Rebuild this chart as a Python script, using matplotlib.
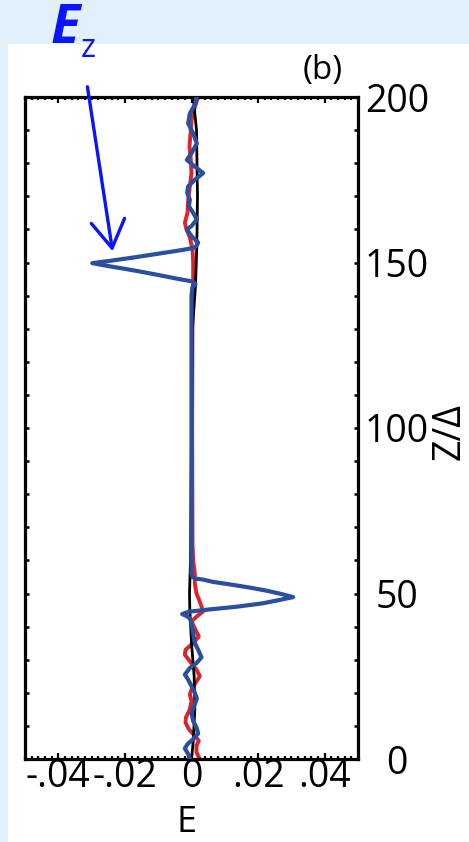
import matplotlib
matplotlib.use('Agg')
import matplotlib.pyplot as plt
from matplotlib.patches import Rectangle, FancyArrowPatch
from matplotlib.ticker import FixedLocator, FixedFormatter, MultipleLocator

plt.rcParams['font.family'] = ['Open Sans', 'DejaVu Sans']

# field profiles: (z/Delta, E)
z_ez = [200, 198, 195, 192, 189, 186, 183, 181, 179, 177, 175, 173, 171, 169, 167,
        165, 163, 161, 160, 158, 156, 155, 154.5,
        154, 153.5, 152.5, 151.5, 150.5, 149.8, 149, 148, 147, 146, 145, 144.3, 143.5, 142.5,
        140, 100, 60, 56, 55,
        54.5, 54.2, 53.5, 52.6, 51.7, 50.8, 49.8, 48.9, 48, 47, 46, 45.2, 44.5, 43.8, 43, 42.5,
        41, 38, 35, 33, 30.7, 29, 27.5, 25.5, 24, 22, 20, 18.3, 16, 13.8, 11.5, 9.5,
        7.7, 6, 4.5, 3.2, 1.5, 0]
ez = [0.0015, 0.0012, -0.0005, -0.001, 0.0005, 0.0016, 0.0, -0.0014, 0.001, 0.0035, 0.001,
      -0.001, -0.0013, -0.0005, -0.0008, 0.0005, 0.0016, 0.0, -0.0014, 0.0, 0.002, 0.0015,
      0.0008,
      -0.0015, -0.0045, -0.011, -0.0175, -0.0245, -0.0298, -0.0255, -0.0195, -0.014, -0.0088,
      -0.0038, 0.0002, 0.0012, 0.0003,
      0.0, 0.0, 0.0, 0.0, 0.0003,
      0.0012, 0.0035, 0.0065, 0.0125, 0.018, 0.0228, 0.0272, 0.0305, 0.0262, 0.0212, 0.0135,
      0.0055, -0.0008, -0.0028, -0.0012, -0.0005,
      0.0, 0.0005, 0.001, 0.002, 0.003, 0.0015, -0.0005, -0.002, -0.001, 0.0, 0.001,
      0.0016, 0.0008, 0.0, 0.0005, 0.0015, 0.002, 0.0005, -0.0012, -0.002, -0.001, -0.0005]

z_red = [200, 197, 193, 189, 185, 181, 177, 173, 169, 165, 162, 160, 157.5, 154, 150, 145,
         140, 100, 65, 60, 56, 53, 50, 47.5, 44.6, 43, 41.5, 39.5, 37, 35, 33, 31.5, 29.5,
         27, 25, 23, 21, 19.5, 17.5, 15, 12.5, 11, 9, 7, 5.5, 4, 2, 0]
e_red = [0.002, 0.001, 0.0, -0.0003, -0.0006, -0.0002, 0.0, -0.0005, -0.001, -0.0012,
         -0.002, -0.0015, -0.0005, 0.0003, 0.0005, 0.0005, 0.0003, 0.0002, 0.0003, 0.0005,
         0.001, 0.001, 0.0015, 0.0025, 0.0035, 0.0015, 0.0, 0.001, 0.0022, 0.0005, -0.0018,
         -0.002, -0.0005, 0.0015, 0.0025, 0.0012, 0.0, -0.0005, 0.0, -0.0005, -0.0017,
         -0.0018, -0.0008, 0.001, 0.0022, 0.0015, 0.0015, 0.0025]

z_blk = [200, 190, 170, 155, 143, 130, 100, 60, 50, 45, 35, 25, 15, 5, 0]
e_blk = [0.0005, 0.0015, 0.0018, 0.0016, 0.0012, 0.0003, 0.0, -0.0003, -0.0006, -0.0005,
         0.0, 0.0008, 0.001, 0.0005, 0.0]

xticks = [-0.04, -0.02, 0, 0.02, 0.04]
xtick_labels = ['-.04', '-.02', '0', '.02', '.04']
yticks = [0, 50, 100, 150, 200]

W, H = 469, 842
fig = plt.figure(figsize=(W / 100, H / 100), dpi=100)
fig.patch.set_facecolor('#e2f0fb')
fig.add_artist(Rectangle((8 / W, 0), 1, (H - 44) / H, transform=fig.transFigure,
                         facecolor='white', edgecolor='none', zorder=0))

ax = fig.add_axes([25 / W, (H - 759) / H, 333 / W, 662 / H])
ax.plot(e_red, z_red, color='#d9252b', lw=2.8, zorder=2, solid_joinstyle='round')
ax.plot(e_blk, z_blk, color='black', lw=2.0, zorder=3)
ax.plot(ez, z_ez, color='#2a4f9e', lw=3.0, zorder=4, solid_joinstyle='round')

ax.set_xlim(-0.05, 0.05)
ax.set_ylim(0, 200)
for s in ax.spines.values():
    s.set_linewidth(2.3)

ax.xaxis.set_major_locator(FixedLocator(xticks))
ax.xaxis.set_major_formatter(FixedFormatter(xtick_labels))
ax.xaxis.set_minor_locator(MultipleLocator(0.002))
ax.yaxis.set_major_locator(FixedLocator(yticks))
ax.yaxis.set_minor_locator(MultipleLocator(10))

ax.tick_params(axis='x', which='both', direction='in', top=True, bottom=True, width=1.6,
               labelsize=27, pad=-1)
ax.tick_params(axis='x', which='major', length=4)
ax.tick_params(axis='x', which='minor', length=2.5)
ax.tick_params(axis='y', which='both', direction='in', left=True, right=True, width=1.8,
               length=3, labelleft=False, labelright=True, labelsize=27, pad=28)
for t in ax.yaxis.get_major_ticks():
    t.label2.set_horizontalalignment('center')

fig.text(187 / W, 1 - 832 / H, 'E', ha='center', va='baseline', fontsize=26)
fig.text(450 / W, 1 - 432 / H, 'Z/Δ', rotation=90, ha='center', va='center', fontsize=27)
fig.text(323 / W, 1 - 71 / H, '(b)', ha='center', va='center', fontsize=24)

# E_z annotation
fig.text(51 / W, 1 - 43 / H, 'E', color='#0a14ff', fontsize=39, fontweight='bold',
         fontstyle='italic', ha='left', va='baseline')
fig.text(81 / W, 1 - 57 / H, 'z', color='#0a14ff', fontsize=23, ha='left', va='baseline')
fig.add_artist(FancyArrowPatch(
    (87 / W, 1 - 84 / H), (113 / W, 1 - 254 / H), transform=fig.transFigure,
    arrowstyle='->, head_length=0.9, head_width=0.55', mutation_scale=22,
    color='#0a14ff', lw=2.4, zorder=10))

fig.savefig('out.png', dpi=100, facecolor=fig.get_facecolor())
